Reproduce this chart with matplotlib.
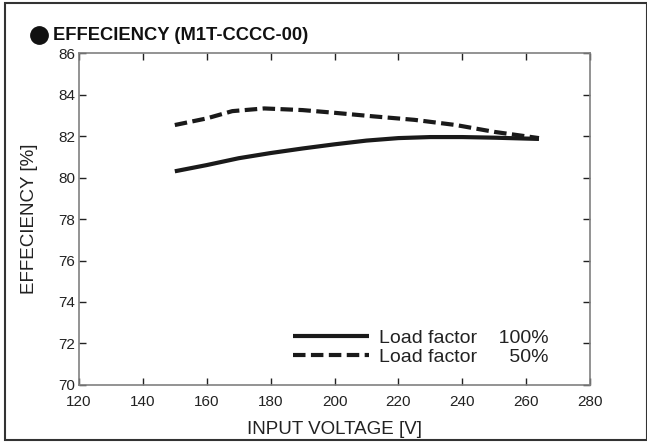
import matplotlib
matplotlib.use("Agg")
import matplotlib.pyplot as plt
from matplotlib.patches import Rectangle
from matplotlib.lines import Line2D

plt.rcParams['font.family'] = ['Liberation Sans', 'DejaVu Sans']

# input voltage [V] and efficiency [%]
volt_100 = [150, 160, 170, 180, 190, 200, 210, 220, 230, 240, 250, 264]
eff_100 = [80.3, 80.6, 80.93, 81.18, 81.4, 81.6, 81.78, 81.9, 81.95, 81.95, 81.92, 81.86]
volt_50 = [150, 160, 168, 178, 190, 200, 212, 225, 238, 250, 264]
eff_50 = [82.53, 82.85, 83.2, 83.33, 83.25, 83.12, 82.95, 82.78, 82.53, 82.2, 81.9]
labels = ["Load factor    100%", "Load factor      50%"]
xticks = [120, 140, 160, 180, 200, 220, 240, 260, 280]
yticks = [70, 72, 74, 76, 78, 80, 82, 84, 86]

fig = plt.figure(figsize=(6.47, 4.42), dpi=100)
ax = fig.add_axes([0.1221, 0.129, 0.912 - 0.1221, 0.880 - 0.129])

ax.plot(volt_100, eff_100, color='#1a1a1a', lw=3, solid_capstyle='butt', label=labels[0])
ax.plot(volt_50, eff_50, color='#1a1a1a', lw=3, dashes=(3, 1.3), dash_capstyle='butt', label=labels[1])

ax.set_xlim(120, 280)
ax.set_ylim(70, 86)
ax.set_xticks(xticks)
ax.set_yticks(yticks)
ax.tick_params(direction='in', length=5, width=1, colors='#222222', labelsize=11,
               top=True, right=True, labeltop=False, labelright=False)
ax.tick_params(axis='y', pad=2.5)
ax.tick_params(axis='x', pad=7)
for s in ax.spines.values():
    s.set_color('#808080')
    s.set_linewidth(1.2)

ax.set_xlabel("INPUT VOLTAGE [V]", fontsize=13.5, color='#222222', va='center')
ax.set_ylabel("EFFECIENCY [%]", fontsize=13.5, color='#222222', va='center')
ax.xaxis.set_label_coords(0.5, -(430 - 385) / 332)
ax.yaxis.set_label_coords(-(79 - 30) / 511, 0.5)

leg = ax.legend(loc='lower right', bbox_to_anchor=(0.938, 0.027), frameon=False,
                fontsize=14, handlelength=3.9, handletextpad=0.5, labelspacing=0.1,
                borderpad=0)
for t in leg.get_texts():
    t.set_color('#222222')

# title bullet and title
fig.add_artist(Line2D([38.5 / 647], [1 - 35 / 442], marker='o', markersize=12.5,
                      color='#111111', transform=fig.transFigure))
fig.text(53 / 647, 1 - 35 / 442, "EFFECIENCY (M1T-CCCC-00)", fontsize=13.2,
         fontweight='bold', va='center', ha='left', color='#111111')

fig.patches.append(Rectangle((5 / 647, 1 - 440 / 442), 1 - 5 / 647, 437 / 442,
                             transform=fig.transFigure, fill=False,
                             edgecolor='#333333', lw=1.5))

fig.savefig("out.png", dpi=100)
